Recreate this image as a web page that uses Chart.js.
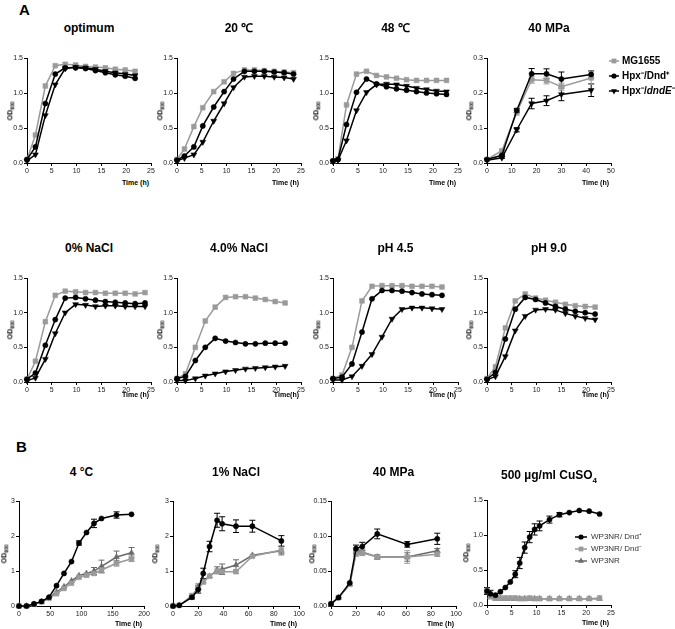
<!DOCTYPE html>
<html>
<head>
<meta charset="utf-8">
<script src="https://cdn.jsdelivr.net/npm/chart.js@4.4.1/dist/chart.umd.min.js"></script>
<style>
body { margin: 0; background: #fff; }
#fig { position: relative; width: 675px; height: 629px; overflow: hidden; font-family: "Liberation Sans", Arial, sans-serif; color: #000; }
#fig canvas { position: absolute; }
.t { position: absolute; font-weight: bold; white-space: nowrap; line-height: 1; }
.title { font-size: 12px; transform: translate(-50%, -50%); }
.title sub { font-size: 8px; }
.od { font-size: 7px; transform: translate(-50%, -50%) rotate(-90deg); }
.od sub { font-size: 5px; }
.time { font-size: 7px; transform: translate(-100%, -50%); }
.letter { font-size: 15px; }
</style>
</head>
<body>
<div id="fig"></div>
<script>
// ---- A: optimum ----
const optT = [0, 1.7, 3.7, 5.7, 7.7, 9.8, 11.8, 13.8, 15.8, 17.8, 19.8, 21.8];
const optMG = [0.05, 0.40, 1.10, 1.39, 1.41, 1.40, 1.38, 1.37, 1.36, 1.34, 1.33, 1.31];
const optDnd = [0.05, 0.23, 0.85, 1.27, 1.36, 1.36, 1.35, 1.32, 1.29, 1.26, 1.24, 1.21];
const optDndE = [0.03, 0.12, 0.68, 1.12, 1.35, 1.37, 1.36, 1.34, 1.31, 1.29, 1.27, 1.25];

// ---- A: 20 C ----
const t20 = [0, 1.5, 3.4, 5.2, 7.4, 9.5, 11.4, 13.6, 15.6, 17.6, 19.6, 21.6, 23.5];
const mg20 = [0.05, 0.20, 0.52, 0.79, 1.02, 1.16, 1.28, 1.33, 1.33, 1.32, 1.31, 1.30, 1.29];
const dnd20 = [0.04, 0.10, 0.23, 0.53, 0.80, 1.02, 1.20, 1.31, 1.31, 1.31, 1.30, 1.29, 1.27];
const dndE20 = [0.03, 0.07, 0.12, 0.30, 0.60, 0.85, 1.08, 1.23, 1.24, 1.24, 1.23, 1.22, 1.20];

// ---- A: 48 C ----
const t48 = [0, 1, 2.7, 4.7, 6.7, 8.7, 10.7, 12.7, 14.7, 16.7, 18.7, 20.7, 22.7];
const mg48 = [0.03, 0.06, 0.83, 1.27, 1.31, 1.25, 1.23, 1.21, 1.19, 1.18, 1.18, 1.18, 1.18];
const dnd48 = [0.03, 0.05, 0.55, 1.01, 1.20, 1.13, 1.09, 1.06, 1.04, 1.02, 1.00, 0.99, 0.98];
const dndE48 = [0.02, 0.04, 0.32, 0.75, 1.01, 1.12, 1.13, 1.12, 1.10, 1.07, 1.05, 1.03, 1.02];

// ---- A: 40 MPa ----
const tPa = [0, 6, 12, 18, 24, 30, 42];
const mgPa = [0.010, 0.035, 0.145, 0.238, 0.236, 0.218, 0.243];
const dndPa = [0.010, 0.022, 0.150, 0.255, 0.255, 0.240, 0.253];
const dndEPa = [0.008, 0.015, 0.095, 0.170, 0.178, 0.196, 0.208];
const mgPaErr = [0, 0.003, 0.008, 0.010, 0.010, 0.010, 0.018];
const dndPaErr = [0, 0.002, 0.006, 0.015, 0.014, 0.020, 0.010];
const dndEPaErr = [0, 0.002, 0.006, 0.015, 0.014, 0.018, 0.018];

// ---- A: 0% NaCl ----
const t0n = [0, 1.7, 3.7, 5.7, 7.7, 9.8, 11.8, 13.8, 15.8, 17.8, 19.8, 21.8, 23.8];
const mg0n = [0.04, 0.30, 0.87, 1.25, 1.31, 1.30, 1.29, 1.29, 1.28, 1.28, 1.28, 1.27, 1.29];
const dnd0n = [0.04, 0.13, 0.53, 0.90, 1.21, 1.22, 1.20, 1.18, 1.16, 1.15, 1.14, 1.13, 1.14];
const dndE0n = [0.02, 0.06, 0.33, 0.70, 1.00, 1.12, 1.11, 1.09, 1.10, 1.10, 1.09, 1.09, 1.09];

// ---- A: 4.0% NaCl ----
const t4n = [0, 1.7, 3.7, 5.7, 7.7, 9.8, 11.8, 13.8, 15.8, 17.8, 19.8, 21.8];
const mg4n = [0.05, 0.12, 0.50, 0.88, 1.08, 1.22, 1.23, 1.23, 1.21, 1.19, 1.16, 1.14];
const dnd4n = [0.05, 0.08, 0.31, 0.50, 0.63, 0.59, 0.57, 0.55, 0.55, 0.56, 0.56, 0.56];
const dndE4n = [0.02, 0.02, 0.05, 0.09, 0.12, 0.15, 0.17, 0.19, 0.20, 0.21, 0.22, 0.23];

// ---- A: pH 4.5 ----
const t45 = [0, 1.8, 3.8, 5.8, 7.8, 9.8, 11.8, 13.8, 15.8, 17.8, 19.8, 21.8];
const mg45 = [0.05, 0.10, 0.50, 1.17, 1.38, 1.39, 1.39, 1.39, 1.38, 1.38, 1.38, 1.37];
const dnd45 = [0.05, 0.07, 0.26, 0.72, 1.20, 1.32, 1.32, 1.31, 1.29, 1.27, 1.26, 1.25];
const dndE45 = [0.03, 0.03, 0.08, 0.23, 0.40, 0.65, 0.91, 1.05, 1.07, 1.07, 1.06, 1.05];

// ---- A: pH 9.0 ----
const t90 = [0, 1.7, 3.7, 5.7, 7.7, 9.8, 11.8, 13.8, 15.8, 17.8, 19.8, 21.8];
const mg90 = [0.05, 0.22, 0.78, 1.17, 1.27, 1.21, 1.18, 1.15, 1.12, 1.10, 1.09, 1.08];
const dnd90 = [0.04, 0.14, 0.62, 1.05, 1.22, 1.19, 1.14, 1.09, 1.05, 1.02, 1.00, 0.98];
const dndE90 = [0.03, 0.08, 0.37, 0.74, 0.95, 1.04, 1.05, 1.04, 0.99, 0.95, 0.92, 0.90];

// ---- B: 4 C ----
const t4c = [0, 12, 24, 36, 48, 60, 72, 84, 96, 108, 120, 132, 156, 180];
const pos4c = [0, 0, 0.06, 0.13, 0.25, 0.58, 0.93, 1.27, 1.80, 2.10, 2.36, 2.50, 2.60, 2.62];
const neg4c = [0, 0, 0.05, 0.12, 0.22, 0.35, 0.50, 0.65, 0.82, 0.88, 0.93, 1.03, 1.22, 1.35];
const wt4c = [0, 0, 0.05, 0.12, 0.24, 0.40, 0.55, 0.72, 0.87, 0.93, 1.00, 1.13, 1.40, 1.52];
const pos4cErr = [0, 0, 0, 0, 0, 0, 0, 0, 0.06, 0, 0.12, 0, 0.09, 0];
const neg4cErr = [0, 0, 0, 0, 0, 0, 0, 0, 0, 0.05, 0.05, 0.08, 0.08, 0.08];
const wt4cErr = [0, 0, 0, 0, 0, 0, 0, 0, 0, 0, 0.10, 0.18, 0.17, 0.15];

// ---- B: 1% NaCl ----
const t1n = [0, 5, 15, 20, 24, 29, 35, 39, 50, 63, 86];
const pos1n = [0, 0.02, 0.25, 0.47, 0.93, 1.70, 2.45, 2.35, 2.28, 2.28, 1.86];
const neg1n = [0, 0.02, 0.30, 0.50, 0.68, 0.85, 1.00, 0.98, 0.98, 1.42, 1.60];
const wt1n = [0, 0.02, 0.25, 0.55, 0.70, 0.85, 1.02, 1.05, 1.17, 1.45, 1.58];
const pos1nErr = [0, 0, 0.05, 0.10, 0.15, 0.15, 0.20, 0.20, 0.18, 0.17, 0.15];
const neg1nErr = [0, 0, 0.05, 0, 0, 0, 0, 0, 0.05, 0, 0.10];
const wt1nErr = [0, 0, 0, 0.08, 0, 0, 0.10, 0.15, 0.15, 0, 0.12];

// ---- B: 40 MPa ----
const tBPa = [0, 6, 15, 20, 25, 37, 61, 85];
const posBPa = [0.003, 0.012, 0.033, 0.082, 0.085, 0.103, 0.088, 0.096];
const negBPa = [0.003, 0.012, 0.031, 0.075, 0.076, 0.070, 0.070, 0.074];
const wtBPa = [0.003, 0.012, 0.031, 0.077, 0.077, 0.070, 0.070, 0.079];
const posBPaErr = [0, 0, 0, 0.005, 0.006, 0.007, 0.004, 0.008];
const negBPaErr = [0, 0, 0, 0.004, 0.004, 0.003, 0.009, 0.003];
const wtBPaErr = [0, 0, 0, 0.003, 0.003, 0.003, 0.006, 0.003];

// ---- B: 500 ug/ml CuSO4 ----
const tCu = [0, 0.7, 1.7, 2.7, 3.7, 4.7, 5.7, 6.6, 7.6, 8.6, 9.6, 10.6, 12.6, 14.6, 16.6, 18.6, 20.6, 22.7];
const posCu = [0.20, 0.16, 0.14, 0.19, 0.25, 0.33, 0.44, 0.60, 0.82, 0.97, 1.08, 1.13, 1.22, 1.29, 1.32, 1.35, 1.34, 1.30];
const negCu = [0.21, 0.12, 0.10, 0.10, 0.10, 0.10, 0.10, 0.09, 0.09, 0.10, 0.09, 0.09, 0.09, 0.09, 0.09, 0.09, 0.09, 0.10];
const wtCu = [0.18, 0.11, 0.09, 0.09, 0.09, 0.09, 0.09, 0.09, 0.09, 0.09, 0.09, 0.09, 0.09, 0.09, 0.09, 0.09, 0.09, 0.09];
const posCuErr = [0.05, 0.05, 0, 0, 0, 0, 0.05, 0.08, 0.08, 0.08, 0.08, 0.07, 0.05, 0.03, 0, 0, 0, 0];

const GRAY = '#9a9a9a';
const BLACK = '#000';
const DARK = '#6a6a6a';
const YW = 26, TP = 6, XH = 14, RP = 10;
const FONT = 'Liberation Sans';

function line(label, xs, ys, color, style, err) {
  const tri = style === 'tri' || style === 'triDown';
  return {
    label,
    data: xs.map((x, i) => ({ x, y: ys[i] })),
    err,
    borderColor: color,
    backgroundColor: color,
    borderWidth: 1.5,
    pointStyle: tri ? 'triangle' : style,
    pointRotation: style === 'triDown' ? 180 : 0,
    pointRadius: style === 'circle' ? 2.6 : 3.4,
    pointBorderWidth: 0.5,
    tension: 0,
    fill: false,
    clip: false
  };
}

function setA(t, mg, dnd, dndE, errs) {
  errs = errs || [];
  return [
    line('Hpx-/Dnd+', t, dnd, BLACK, 'circle', errs[1]),
    line('Hpx-/dndE-', t, dndE, BLACK, 'triDown', errs[2]),
    line('MG1655', t, mg, GRAY, 'rect', errs[0])
  ];
}

function setB(t, pos, neg, wt, errs) {
  errs = errs || [];
  return [
    line('WP3NR/ Dnd+', t, pos, BLACK, 'circle', errs[0]),
    line('WP3NR/ Dnd-', t, neg, GRAY, 'rect', errs[1]),
    line('WP3NR', t, wt, DARK, 'tri', errs[2])
  ];
}

// error bars drawn from the y scale of each chart
const errorBars = {
  id: 'errorBars',
  beforeDatasetsDraw(chart) {
    const ctx = chart.ctx;
    const ys = chart.scales.y;
    chart.data.datasets.forEach((ds, i) => {
      if (!ds.err) return;
      const meta = chart.getDatasetMeta(i);
      ctx.save();
      ctx.strokeStyle = ds.borderColor;
      ctx.lineWidth = 1;
      meta.data.forEach((pt, j) => {
        const e = ds.err[j];
        if (!e) return;
        const v = ds.data[j].y;
        const hi = ys.getPixelForValue(v + e);
        const lo = ys.getPixelForValue(Math.max(v - e, 0));
        ctx.beginPath();
        ctx.moveTo(pt.x, hi); ctx.lineTo(pt.x, lo);
        ctx.moveTo(pt.x - 3, hi); ctx.lineTo(pt.x + 3, hi);
        ctx.moveTo(pt.x - 3, lo); ctx.lineTo(pt.x + 3, lo);
        ctx.stroke();
      });
      ctx.restore();
    });
  }
};

function drawMarker(ctx, ds, x, y) {
  const r = ds.pointRadius;
  ctx.fillStyle = ds.backgroundColor;
  ctx.beginPath();
  if (ds.pointStyle === 'circle') {
    ctx.arc(x, y, r, 0, Math.PI * 2);
  } else if (ds.pointStyle === 'rect') {
    const s = r * Math.SQRT1_2;
    ctx.rect(x - s, y - s, 2 * s, 2 * s);
  } else {
    const d = ds.pointRotation ? -1 : 1;
    ctx.moveTo(x, y - d * r);
    ctx.lineTo(x + r * 0.866, y + d * r * 0.5);
    ctx.lineTo(x - r * 0.866, y + d * r * 0.5);
    ctx.closePath();
  }
  ctx.fill();
}

const markerLegend = {
  id: 'markerLegend',
  afterDraw(chart, args, opts) {
    if (!opts.items) return;
    const ctx = chart.ctx;
    const left = chart.canvas.offsetLeft, top = chart.canvas.offsetTop;
    opts.items.forEach((it, i) => {
      const ds = chart.data.datasets[it.ds];
      const y = opts.ys[i] - top;
      const x0 = opts.x0 - left, x1 = opts.x1 - left;
      ctx.save();
      ctx.strokeStyle = ds.borderColor;
      ctx.lineWidth = 1.5;
      ctx.beginPath(); ctx.moveTo(x0, y); ctx.lineTo(x1, y); ctx.stroke();
      drawMarker(ctx, ds, (x0 + x1) / 2, y);
      let tx = opts.tx - left;
      ctx.fillStyle = opts.color;
      ctx.textBaseline = 'middle';
      it.parts.forEach(p => {
        ctx.font = (p[1] ? 'italic ' : '') + opts.weight + ' ' + opts.size + 'px "' + FONT + '"';
        ctx.fillText(p[0], tx, y);
        tx += ctx.measureText(p[0]).width;
      });
      ctx.restore();
    });
  }
};

const panels = [
  { title: 'optimum', x0: 27, x1: 151, yT: 58, yB: 163, xMax: 25, xStep: 5, yMax: 1.5, yStep: 0.5, yDec: 1, odDx: 16, timeDy: 19,
    data: setA(optT, optMG, optDnd, optDndE) },
  { title: '20 ℃', x0: 177, x1: 301, yT: 58, yB: 163, xMax: 25, xStep: 5, yMax: 1.5, yStep: 0.5, yDec: 1, odDx: 16, timeDy: 19,
    data: setA(t20, mg20, dnd20, dndE20) },
  { title: '48 ℃', x0: 333, x1: 458, yT: 58, yB: 163, xMax: 25, xStep: 5, yMax: 1.5, yStep: 0.5, yDec: 1, odDx: 16, timeDy: 19,
    data: setA(t48, mg48, dnd48, dndE48) },
  { title: '40 MPa', x0: 487, x1: 611, yT: 58, yB: 163, xMax: 50, xStep: 10, yMax: 0.3, yStep: 0.1, yDec: 1, odDx: 17, timeDy: 19, rp: 64,
    data: setA(tPa, mgPa, dndPa, dndEPa, [mgPaErr, dndPaErr, dndEPaErr]),
    legend: { x0: 609, x1: 619, tx: 622, ys: [61, 76, 91], size: 10, weight: 'bold', color: '#000',
      items: [
        { ds: 2, parts: [['MG1655']] },
        { ds: 0, parts: [['Hpx⁻/Dnd⁺']] },
        { ds: 1, parts: [['Hpx⁻/'], ['dndE', true], ['⁻']] }
      ] } },
  { title: '0% NaCl', x0: 27, x1: 151, yT: 278, yB: 382, xMax: 25, xStep: 5, yMax: 1.5, yStep: 0.5, yDec: 1, odDx: 16, timeDy: 12,
    data: setA(t0n, mg0n, dnd0n, dndE0n) },
  { title: '4.0% NaCl', x0: 177, x1: 301, yT: 278, yB: 382, xMax: 25, xStep: 5, yMax: 1.5, yStep: 0.5, yDec: 1, odDx: 16, timeDy: 12, time: 'Time(h)',
    data: setA(t4n, mg4n, dnd4n, dndE4n) },
  { title: 'pH 4.5', x0: 333, x1: 458, yT: 278, yB: 382, xMax: 25, xStep: 5, yMax: 1.5, yStep: 0.5, yDec: 1, odDx: 16, timeDy: 12,
    data: setA(t45, mg45, dnd45, dndE45) },
  { title: 'pH 9.0', x0: 487, x1: 611, yT: 278, yB: 382, xMax: 25, xStep: 5, yMax: 1.5, yStep: 0.5, yDec: 1, odDx: 17, timeDy: 12,
    data: setA(t90, mg90, dnd90, dndE90) },
  { title: '4 °C', x0: 19, x1: 144, yT: 501, yB: 606, xMax: 200, xStep: 50, yMax: 3, yStep: 1, yDec: 0, odDx: 14, timeDy: 17,
    data: setB(t4c, pos4c, neg4c, wt4c, [pos4cErr, neg4cErr, wt4cErr]) },
  { title: '1% NaCl', x0: 173, x1: 299, yT: 501, yB: 606, xMax: 100, xStep: 20, yMax: 3, yStep: 1, yDec: 0, odDx: 17, timeDy: 17,
    data: setB(t1n, pos1n, neg1n, wt1n, [pos1nErr, neg1nErr, wt1nErr]) },
  { title: '40 MPa', x0: 331, x1: 456, yT: 501, yB: 606, xMax: 100, xStep: 20, yMax: 0.15, yStep: 0.05, yDec: 2, odDx: 18, timeDy: 17,
    data: setB(tBPa, posBPa, negBPa, wtBPa, [posBPaErr, negBPaErr, wtBPaErr]) },
  { title: '500 µg/ml CuSO<sub>4</sub>', x0: 487, x1: 611, yT: 500, yB: 605, xMax: 25, xStep: 5, yMax: 1.5, yStep: 0.5, yDec: 1, odDx: 20, timeDy: 17, titleDy: 5, rp: 64,
    data: setB(tCu, posCu, negCu, wtCu, [posCuErr]),
    legend: { x0: 575, x1: 587, tx: 591, ys: [537, 549, 561], size: 8, weight: 'normal', color: '#333',
      items: [
        { ds: 0, parts: [['WP3NR/ Dnd⁺']] },
        { ds: 1, parts: [['WP3NR/ Dnd⁻']] },
        { ds: 2, parts: [['WP3NR']] }
      ] } }
];

const fig = document.getElementById('fig');

function addText(cls, html, x, y) {
  const d = document.createElement('div');
  d.className = 't ' + cls;
  d.innerHTML = html;
  d.style.left = x + 'px';
  d.style.top = y + 'px';
  fig.appendChild(d);
}

addText('letter', 'A', 19, 2);
addText('letter', 'B', 16, 439);

panels.forEach(p => {
  const rp = p.rp || RP;
  const cv = document.createElement('canvas');
  cv.width = p.x1 - p.x0 + YW + rp;
  cv.height = p.yB - p.yT + TP + XH;
  cv.style.left = (p.x0 - YW) + 'px';
  cv.style.top = (p.yT - TP) + 'px';
  fig.appendChild(cv);

  const tickFont = { family: FONT, size: 7 };
  new Chart(cv, {
    type: 'line',
    data: { datasets: p.data },
    options: {
      responsive: false,
      animation: false,
      events: [],
      devicePixelRatio: 1,
      layout: { padding: { top: TP, right: rp, left: 0, bottom: 0 } },
      plugins: { legend: { display: false }, tooltip: { enabled: false }, markerLegend: p.legend || {} },
      scales: {
        x: {
          type: 'linear', min: 0, max: p.xMax,
          afterFit: s => { s.height = XH; },
          ticks: { stepSize: p.xStep, font: tickFont, color: '#222', padding: 1, maxRotation: 0, autoSkip: false },
          grid: { drawOnChartArea: false, tickLength: 3, color: '#000' },
          border: { color: '#000', width: 1 }
        },
        y: {
          type: 'linear', min: 0, max: p.yMax,
          afterFit: s => { s.width = YW; },
          ticks: { stepSize: p.yStep, font: tickFont, color: '#222', padding: 1, autoSkip: false,
            callback: v => Number(v).toFixed(p.yDec) },
          grid: { drawOnChartArea: false, tickLength: 3, color: '#000' },
          border: { color: '#000', width: 1 }
        }
      }
    },
    plugins: [errorBars, markerLegend]
  });

  const cx = (p.x0 + p.x1) / 2;
  const titleY = p.yT < 100 ? 28 : (p.yT < 300 ? 248 : 472);
  addText('title', p.title, cx, titleY + (p.titleDy || 0));
  addText('od', 'OD<sub>600</sub>', p.x0 - p.odDx, (p.yT + p.yB) / 2);
  addText('time', p.time || 'Time (h)', p.x1 - 2, p.yB + p.timeDy);
});
</script>
</body>
</html>
